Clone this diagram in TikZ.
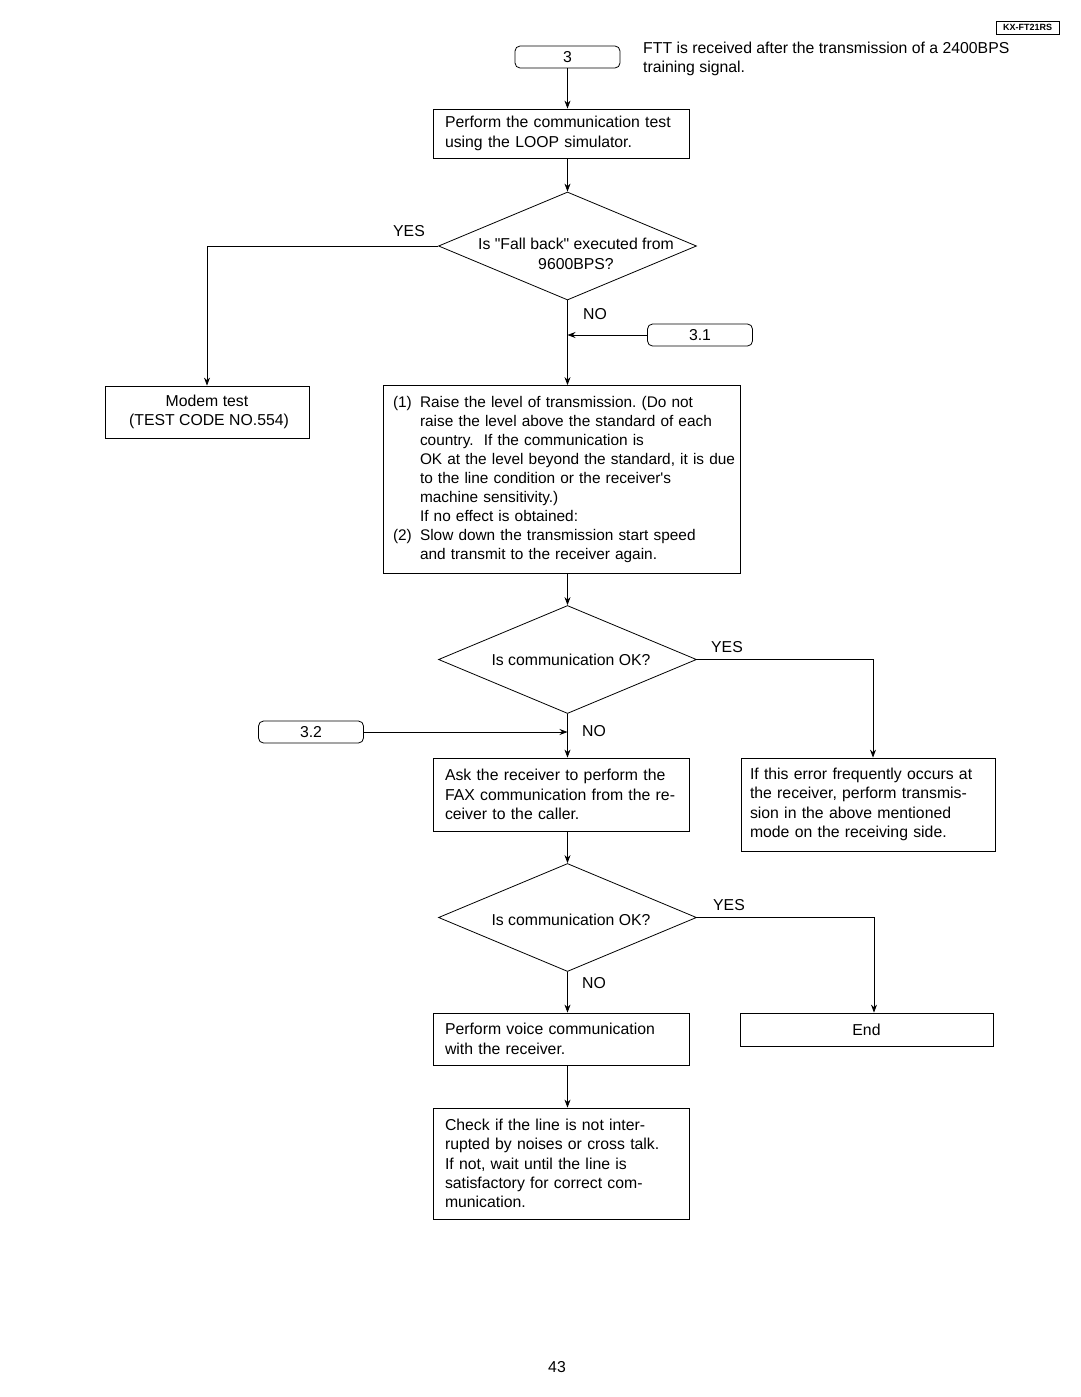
\documentclass[tikz,border=0pt]{standalone}
\usepackage{fontspec}
\setmainfont{Liberation Sans}
\usetikzlibrary{shapes.geometric,arrows.meta}
\begin{document}
\frenchspacing
\begin{tikzpicture}[x=1pt,y=-1pt,
  font=\fontsize{15.8}{19.4}\selectfont,
  every node/.style={inner sep=0pt},
  line/.style={draw=black,line width=0.8pt},
  arr/.style={line,-{Stealth[length=8pt,width=6pt]}},
  term/.style={line,rectangle,rounded corners=5pt,minimum width=105pt,minimum height=22pt,align=center},
  pbox/.style={line,rectangle,align=left,inner xsep=#1,inner ysep=0pt},
  dia/.style={line,diamond,minimum width=258pt,minimum height=108pt,inner sep=0pt},
  lbl/.style={inner sep=0pt}
]
\useasboundingbox (0,0) rectangle (1080,1397);
\fill[white] (0,0) rectangle (1080,1397);

% header tag
\node[draw=black,line width=0.8pt,font=\fontsize{9}{10}\selectfont\bfseries,minimum width=63pt,minimum height=13pt] (tag) at (1027.5,27.5) {KX-FT21RS};

% terminal 3
\node[term] (t3) at (567.5,57) {3};
\node[lbl,anchor=west,align=left] (ftt) at (643,59) {FTT is received after the transmission of a 2400BPS\\training signal.};

% box1
\node[pbox=12pt,text width=232pt,minimum height=49pt] (b1) at (561,133.5) {Perform the communication test\\using the LOOP simulator.};

% diamond 1
\node[dia] (d1) at (567.5,246) {};
\node[lbl,align=center] (d1t) at (576,254) {Is \textquotedbl Fall back\textquotedbl{} executed from\\9600BPS?};
\node[lbl] (yes1) at (409,231) {YES};
\node[lbl] (no1) at (595,314) {NO};

% modem test
\node[line,rectangle,align=center,minimum width=204pt,minimum height=52pt] (modem) at (207,412) {Modem test\\\hspace*{4pt}(TEST CODE NO.554)};

% terminal 3.1
\node[term] (t31) at (700,335) {3.1};

% box2
\node[pbox=10pt,text width=337pt,minimum height=188pt,font=\fontsize{15.4}{19.1}\selectfont] (b2) at (561.5,479.5) {%
\mbox{\makebox[27pt][l]{(1)}Raise the level of transmission. (Do not}\\
\mbox{\hspace*{27pt}raise the level above the standard of each}\\
\mbox{\hspace*{27pt}country.\ \ If the communication is}\\
\mbox{\hspace*{27pt}OK at the level beyond the standard, it is due}\\
\mbox{\hspace*{27pt}to the line condition or the receiver\textquotesingle s}\\
\mbox{\hspace*{27pt}machine sensitivity.)}\\
\mbox{\hspace*{27pt}If no effect is obtained:}\\
\mbox{\makebox[27pt][l]{(2)}Slow down the transmission start speed}\\
\mbox{\hspace*{27pt}and transmit to the receiver again.}};

% diamond 2
\node[dia] (d2) at (567.5,659.5) {};
\node[lbl] (d2t) at (571,660) {Is communication OK?};
\node[lbl] (yes2) at (727,647) {YES};
\node[lbl] (no2) at (594,731) {NO};

% terminal 3.2
\node[term] (t32) at (311,732) {3.2};

% box3
\node[pbox=12pt,text width=232pt,minimum height=73pt] (b3) at (561,794.5) {Ask the receiver to perform the\\FAX communication from the re-\\ceiver to the caller.};

% right box
\node[pbox=9pt,text width=236pt,minimum height=93pt] (rb) at (868,804.5) {If this error frequently occurs at\\the receiver, perform transmis-\\sion in the above mentioned\\mode on the receiving side.};

% diamond 3
\node[dia] (d3) at (567.5,917.5) {};
\node[lbl] (d3t) at (571,920) {Is communication OK?};
\node[lbl] (yes3) at (729,905) {YES};
\node[lbl] (no3) at (594,983) {NO};

% box4
\node[pbox=12pt,text width=232pt,minimum height=52pt] (b4) at (561,1039) {Perform voice communication\\with the receiver.};

% end box
\node[line,rectangle,minimum width=253pt,minimum height=33pt] (endb) at (866.5,1029.5) {End};

% box5
\node[pbox=12pt,text width=232pt,minimum height=111pt] (b5) at (561,1163.5) {Check if the line is not inter-\\rupted by noises or cross talk.\\If not, wait until the line is\\satisfactory for correct com-\\munication.};

% page number
\node[lbl] (page) at (557,1367) {43};

% connectors
\draw[arr] (t3.south) -- (t3.south |- b1.north);
\draw[arr] (b1.south -| d1.north) -- (d1.north);
\draw[arr] (d1.west) -| (modem.north);
\draw[arr] (d1.south) -- (d1.south |- b2.north);
\draw[arr] (t31.west) -- (t31.west -| d1.south);
\draw[arr] (b2.south -| d2.north) -- (d2.north);
\draw[arr] (d2.east) -| ([xshift=5pt]rb.north);
\draw[arr] (d2.south) -- (d2.south |- b3.north);
\draw[arr] (t32.east) -- (t32.east -| d2.south);
\draw[arr] (b3.south -| d3.north) -- (d3.north);
\draw[arr] (d3.east) -| ([xshift=7.5pt]endb.north);
\draw[arr] (d3.south) -- (d3.south |- b4.north);
\draw[arr] (b4.south -| d3.south) -- (b5.north -| d3.south);
\end{tikzpicture}
\end{document}
